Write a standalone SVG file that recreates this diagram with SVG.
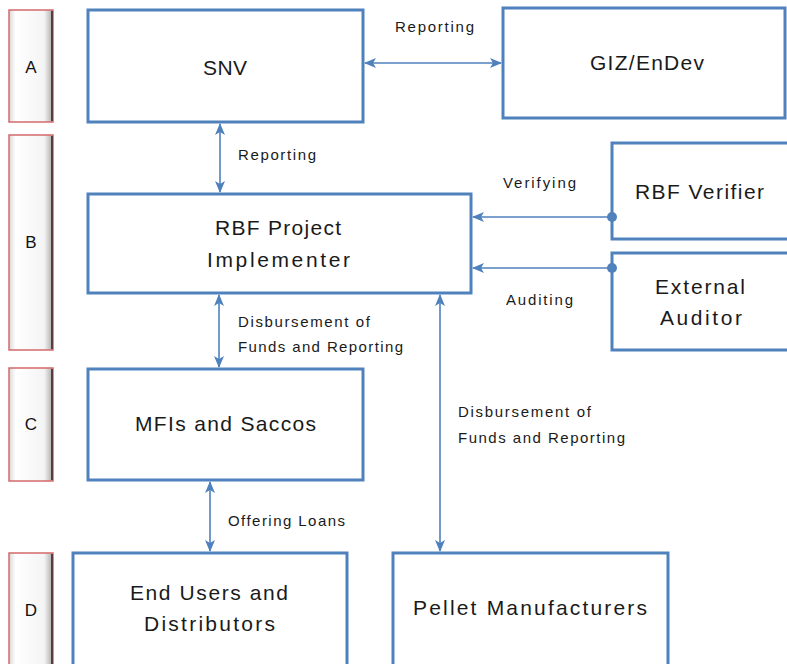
<svg xmlns="http://www.w3.org/2000/svg" width="787" height="664" viewBox="0 0 787 664">
<defs>
<style>
.box{fill:#fff;stroke:#4F81BD;stroke-width:3}
.bt{font-family:"Liberation Sans",Arial,sans-serif;font-size:21px;fill:#1a1a1a}
.lbl{font-family:"Liberation Sans",Arial,sans-serif;font-size:15px;fill:#1a1a1a}
.bar{fill:url(#barg);stroke:#d46a6a;stroke-width:1.5}
.bart{font-family:"Liberation Sans",Arial,sans-serif;font-size:17px;fill:#111;text-anchor:middle}
.con{stroke:#4F81BD;stroke-width:1.6;fill:none}
</style>
<linearGradient id="barg" x1="0" y1="0" x2="1" y2="0">
<stop offset="0" stop-color="#d8d8d8"/>
<stop offset="0.15" stop-color="#ffffff"/>
<stop offset="0.8" stop-color="#f4f4f4"/>
<stop offset="1" stop-color="#a8a8a8"/>
</linearGradient>
<marker id="ah" viewBox="0 0 12 10" refX="11" refY="5" markerWidth="12" markerHeight="10" markerUnits="userSpaceOnUse" orient="auto-start-reverse">
<path d="M0,0 L12,5 L0,10 L3,5 z" fill="#4F81BD"/>
</marker>
<marker id="dot" viewBox="0 0 10 10" refX="5" refY="5" markerWidth="10" markerHeight="10" markerUnits="userSpaceOnUse">
<circle cx="5" cy="5" r="5" fill="#4F81BD"/>
</marker>
</defs>
<rect width="787" height="664" fill="#fff"/>

<g id="rowA"><rect class="bar" x="9" y="10" width="44" height="112"/><path d="M52,11 V121" stroke="#5a3a3a" stroke-width="2"/><text class="bart" x="31" y="73">A</text></g>
<g id="rowB"><rect class="bar" x="9" y="135" width="44" height="215"/><path d="M52,136 V349" stroke="#5a3a3a" stroke-width="2"/><text class="bart" x="31" y="248">B</text></g>
<g id="rowC"><rect class="bar" x="9" y="368" width="44" height="113"/><path d="M52,369 V480" stroke="#5a3a3a" stroke-width="2"/><text class="bart" x="31" y="430">C</text></g>
<g id="rowD"><rect class="bar" x="9" y="553" width="44" height="120"/><path d="M52,554 V664" stroke="#5a3a3a" stroke-width="2"/><text class="bart" x="31" y="616">D</text></g>

<g id="snv"><rect class="box" x="88" y="10" width="275" height="112"/><text class="bt" x="203" y="75" textLength="44" lengthAdjust="spacing">SNV</text></g>
<g id="giz"><rect class="box" x="503" y="8" width="282" height="110"/><text class="bt" x="590" y="70" textLength="114" lengthAdjust="spacing">GIZ/EnDev</text></g>
<g id="rbfpi"><rect class="box" x="88" y="194" width="383" height="99"/><text class="bt" x="215" y="235" textLength="126" lengthAdjust="spacing">RBF Project</text><text class="bt" x="207" y="267" textLength="143" lengthAdjust="spacing">Implementer</text></g>
<g id="verifier"><rect class="box" x="612" y="143" width="180" height="96"/><text class="bt" x="635" y="199" textLength="129" lengthAdjust="spacing">RBF Verifier</text></g>
<g id="auditor"><rect class="box" x="612" y="253" width="180" height="97"/><text class="bt" x="655" y="294" textLength="90" lengthAdjust="spacing">External</text><text class="bt" x="660" y="325" textLength="82" lengthAdjust="spacing">Auditor</text></g>
<g id="mfi"><rect class="box" x="88" y="369" width="275" height="111"/><text class="bt" x="135" y="431" textLength="181" lengthAdjust="spacing">MFIs and Saccos</text></g>
<g id="endusers"><rect class="box" x="73" y="553" width="274" height="120"/><text class="bt" x="130" y="600" textLength="158" lengthAdjust="spacing">End Users and</text><text class="bt" x="144" y="631" textLength="131" lengthAdjust="spacing">Distributors</text></g>
<g id="pellet"><rect class="box" x="393" y="553" width="275" height="120"/><text class="bt" x="413" y="615" textLength="234" lengthAdjust="spacing">Pellet Manufacturers</text></g>

<g id="connectors">
<line class="con" x1="365" y1="63" x2="501" y2="63" marker-start="url(#ah)" marker-end="url(#ah)"/>
<line class="con" x1="220" y1="124" x2="220" y2="192" marker-start="url(#ah)" marker-end="url(#ah)"/>
<line class="con" x1="612" y1="217" x2="473" y2="217" marker-start="url(#dot)" marker-end="url(#ah)"/>
<line class="con" x1="612" y1="268" x2="473" y2="268" marker-start="url(#dot)" marker-end="url(#ah)"/>
<line class="con" x1="219" y1="295" x2="219" y2="367" marker-start="url(#ah)" marker-end="url(#ah)"/>
<line class="con" x1="440" y1="295" x2="440" y2="551" marker-start="url(#ah)" marker-end="url(#ah)"/>
<line class="con" x1="210" y1="482" x2="210" y2="551" marker-start="url(#ah)" marker-end="url(#ah)"/>
</g>

<g id="labels">
<text class="lbl" x="395" y="32" textLength="79" lengthAdjust="spacing">Reporting</text>
<text class="lbl" x="238" y="160" textLength="78" lengthAdjust="spacing">Reporting</text>
<text class="lbl" x="503" y="188" textLength="73" lengthAdjust="spacing">Verifying</text>
<text class="lbl" x="506" y="305" textLength="67" lengthAdjust="spacing">Auditing</text>
<text class="lbl" x="238" y="327" textLength="132" lengthAdjust="spacing">Disbursement of</text>
<text class="lbl" x="238" y="352" textLength="165" lengthAdjust="spacing">Funds and Reporting</text>
<text class="lbl" x="458" y="417" textLength="133" lengthAdjust="spacing">Disbursement of</text>
<text class="lbl" x="458" y="443" textLength="167" lengthAdjust="spacing">Funds and Reporting</text>
<text class="lbl" x="228" y="526" textLength="117" lengthAdjust="spacing">Offering Loans</text>
</g>
</svg>
